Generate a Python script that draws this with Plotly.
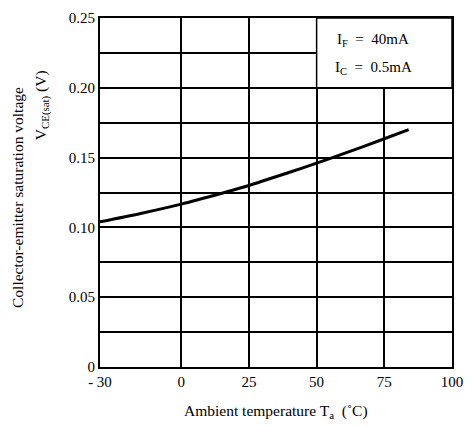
import plotly.graph_objects as go

# Data
temp_c = [-30, -15, 0, 15, 25, 40, 50, 60, 75, 84]
vce_sat = [0.104, 0.110, 0.1167, 0.1245, 0.130, 0.1395, 0.146, 0.1528, 0.1635, 0.170]

x_ticks = [-30, 0, 25, 50, 75, 100]
x_tick_labels = ["- 30", "0", "25", "50", "75", "100"]
y_ticks = [0, 0.05, 0.10, 0.15, 0.20, 0.25]
y_tick_labels = ["0", "0.05", "0.10", "0.15", "0.20", "0.25"]
y_minor = [0.025, 0.075, 0.125, 0.175, 0.225]

FONT = "Liberation Serif"

fig = go.Figure()
fig.add_trace(go.Scatter(x=temp_c, y=vce_sat, mode="lines",
                         line=dict(color="black", width=3, shape="spline", smoothing=0.8),
                         showlegend=False, hoverinfo="skip"))

fig.update_xaxes(range=[-30, 100], tickvals=x_ticks, ticktext=x_tick_labels,
                 showgrid=True, gridcolor="black", gridwidth=1.5,
                 showline=True, linecolor="black", linewidth=2, mirror=True,
                 zeroline=False, ticks="", ticklen=0,
                 tickfont=dict(family=FONT, size=15, color="black"))
fig.update_yaxes(range=[0, 0.25], tickvals=y_ticks, ticktext=y_tick_labels,
                 showgrid=True, gridcolor="black", gridwidth=1.5,
                 minor=dict(tickvals=y_minor, showgrid=True, gridcolor="black", gridwidth=1.5),
                 showline=True, linecolor="black", linewidth=2, mirror=True,
                 zeroline=False, ticks="", ticklen=0,
                 tickfont=dict(family=FONT, size=15, color="black"))

# Condition box (top-right)
fig.add_shape(type="rect", xref="x", yref="y", x0=50, x1=100, y0=0.2, y1=0.25,
              fillcolor="white", line=dict(color="black", width=1.5), layer="between")
fig.add_annotation(xref="x", yref="y", x=71, y=0.2345, text="I<sub>F</sub>  =  40mA",
                   showarrow=False, font=dict(family=FONT, size=15, color="black"))
fig.add_annotation(xref="x", yref="y", x=71, y=0.2145, text="I<sub>C</sub>  =  0.5mA",
                   showarrow=False, font=dict(family=FONT, size=15, color="black"))

# Axis titles
fig.add_annotation(xref="paper", yref="paper", x=0.5, y=-0.095, yanchor="top",
                   text="Ambient temperature T<sub>a</sub>  (˚C)", showarrow=False,
                   font=dict(family=FONT, size=15.5, color="black"))
fig.add_annotation(xref="paper", yref="paper", x=-0.235, y=0.485, xanchor="center",
                   yanchor="middle",
                   text="Collector-emitter saturation voltage", textangle=-90,
                   showarrow=False, font=dict(family=FONT, size=15.5, color="black"))
fig.add_annotation(xref="paper", yref="paper", x=-0.165, y=0.75, xanchor="center",
                   yanchor="middle",
                   text="V<sub>CE(sat)</sub> (V)", textangle=-90,
                   showarrow=False, font=dict(family=FONT, size=15.5, color="black"))

fig.update_layout(width=473, height=426, paper_bgcolor="white", plot_bgcolor="white",
                  margin=dict(l=100, r=14, t=10, b=59))

fig.write_html("out.html")
